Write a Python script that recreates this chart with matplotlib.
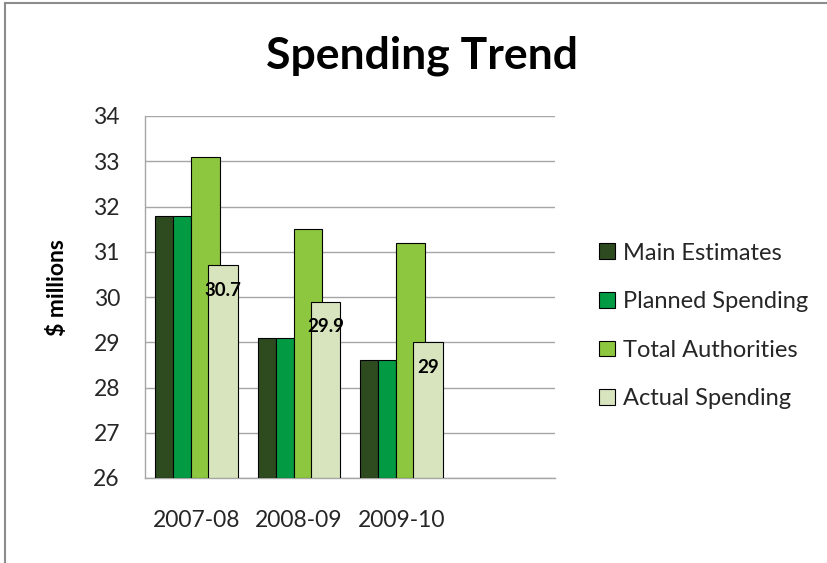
import matplotlib
matplotlib.use("Agg")
import matplotlib.pyplot as plt
from matplotlib.lines import Line2D
import numpy as np

# data
categories = ["2007-08", "2008-09", "2009-10", ""]
main_estimates = [31.8, 29.1, 28.6]
planned_spending = [31.8, 29.1, 28.6]
total_authorities = [33.1, 31.5, 31.2]
actual_spending = [30.7, 29.9, 29.0]
series_names = ["Main Estimates", "Planned Spending", "Total Authorities", "Actual Spending"]
y_ticks = [26, 27, 28, 29, 30, 31, 32, 33, 34]

# style
FONT = "Lato"
C_MAIN = "#2E4B20"
C_PLAN = "#029A43"
C_TOTAL = "#8DC63F"
C_ACT = "#D7E4BD"
GRID = "#A6A6A6"
TEXT = "#262626"

plt.rcParams["font.family"] = [FONT, "DejaVu Sans"]

fig = plt.figure(figsize=(8.27, 5.63), dpi=100, facecolor="white")
ax = fig.add_axes([145 / 827, 1 - 478 / 563, 410 / 827, 362 / 563])

x = np.arange(3)
kw = dict(edgecolor="black", linewidth=0.8, zorder=3, bottom=26)
ax.bar(x - 0.313, np.array(main_estimates) - 26, width=0.175, color=C_MAIN, label=series_names[0], **kw)
ax.bar(x - 0.138, np.array(planned_spending) - 26, width=0.175, color=C_PLAN, label=series_names[1], **kw)
ax.bar(x + 0.09, np.array(total_authorities) - 26, width=0.28, color=C_TOTAL, label=series_names[2], **kw)
bars = ax.bar(x + 0.26, np.array(actual_spending) - 26, width=0.29, color=C_ACT, label=series_names[3], **kw)

for rect, v in zip(bars, actual_spending):
    ax.annotate(f"{v:g}", (rect.get_x() + rect.get_width() / 2, v),
                xytext=(0, -18), textcoords="offset points",
                ha="center", va="center", fontsize=13.5, fontweight="bold",
                color="black", zorder=5)

ax.set_xlim(-0.5, 3.5)
ax.set_ylim(26, 34)
ax.set_yticks(y_ticks)
ax.set_yticklabels([str(t) for t in y_ticks])
ax.set_xticks(np.arange(4))
ax.set_xticklabels(categories)
ax.tick_params(axis="y", length=0, pad=18, labelsize=16.5, labelcolor=TEXT)
ax.tick_params(axis="x", length=0, pad=23, labelsize=16.5, labelcolor=TEXT)
ax.grid(axis="y", color=GRID, linewidth=1.0, zorder=0)
ax.set_axisbelow(True)
for s in ["top", "right"]:
    ax.spines[s].set_visible(False)
for s in ["left", "bottom"]:
    ax.spines[s].set_color(GRID)
    ax.spines[s].set_linewidth(1.0)

fig.text(58 / 827, 1 - 288 / 563, "$ millions", rotation=90, ha="center", va="center",
         fontsize=16.5, fontweight="bold", color="black")
fig.text(422 / 827, 1 - 56 / 563, "Spending Trend", ha="center", va="center",
         fontsize=32, fontweight="bold", color="black")

leg = fig.legend(loc="center left", bbox_to_anchor=(578 / 827, 1 - 326 / 563),
                 frameon=False, fontsize=17, handlelength=0.65, handleheight=0.65,
                 labelspacing=1.17, handletextpad=0.35, labelcolor=TEXT)

# chart frame
fig.add_artist(Line2D([5 / 827, 5 / 827], [0, 1 - 3 / 563], color="#8C8C8C", linewidth=1.5, transform=fig.transFigure))
fig.add_artist(Line2D([5 / 827, 1], [1 - 3 / 563, 1 - 3 / 563], color="#8C8C8C", linewidth=1.5, transform=fig.transFigure))

fig.savefig("out.png", dpi=100, facecolor="white")
